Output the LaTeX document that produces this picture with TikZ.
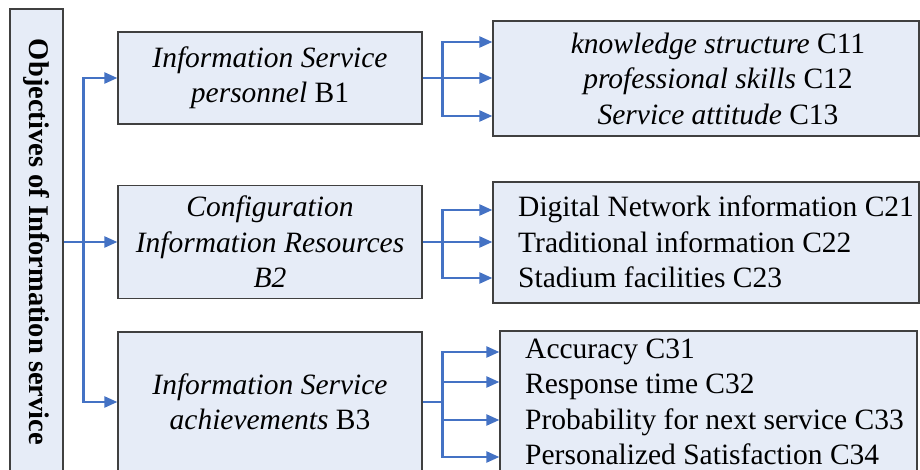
\documentclass[tikz,border=0pt]{standalone}
\usepackage{fontspec}
\setmainfont{Liberation Serif}
\usetikzlibrary{arrows.meta}
\definecolor{boxfill}{RGB}{230,236,247}
\definecolor{arrowblue}{RGB}{68,114,196}
\definecolor{boxline}{RGB}{64,64,64}
\tikzset{
	goalbox/.style={draw=boxline, line width=1.3pt, fill=boxfill, inner sep=0pt,
		align=center, font=\fontsize{29.5}{35.5}\selectfont},
	itemtext/.style={inner sep=0pt, font=\fontsize{29.5}{35.5}\selectfont},
	feed/.style={draw=arrowblue, line width=2.4pt},
	link/.style={feed, -{Triangle[length=13pt,width=11pt]}},
}

\begin{document}
\begin{tikzpicture}[x=1pt,y=-1pt]
	\useasboundingbox (0,0) rectangle (920,470);
	\clip (0,0) rectangle (920,470);
	
	% goal
	\node[goalbox, minimum width=53pt, minimum height=466pt, font=\fontsize{28.5}{30}\selectfont\bfseries] (A) at (36.5,242) {\rotatebox{-90}{Objectives of Information service}};
	
	% criteria
	\node[goalbox, minimum width=304pt, minimum height=92pt] (B1) at (270,78) {\textit{Information Service}\\\textit{personnel} B1};
	\node[goalbox, minimum width=304pt, minimum height=113pt] (B2) at (270,242) {\textit{Configuration}\\\textit{Information Resources}\\\textit{B2}};
	\node[goalbox, minimum width=304pt, minimum height=140pt] (B3) at (270,402) {\textit{Information Service}\\\textit{achievements} B3};
	
	% indicators
	\node[goalbox, minimum width=426pt, minimum height=115pt] (C1) at (706,78.5) {};
	\node[goalbox, minimum width=426pt, minimum height=121pt] (C2) at (706,242.5) {};
	\node[goalbox, minimum width=417pt, minimum height=141pt] (C3) at (708.5,401.5) {};
	\node[itemtext, align=center] (C1text) at (718,78.5) {\textit{knowledge structure} C11\\\textit{professional skills} C12\\\textit{Service attitude} C13};
	\node[itemtext, align=left, anchor=west] (C2text) at (518,242) {Digital Network information C21\\Traditional information C22\\Stadium facilities C23};
	\node[itemtext, align=left, anchor=west] (C3text) at (525,402) {Accuracy C31\\Response time C32\\Probability for next service C33\\Personalized Satisfaction C34};
	
	% goal -> criteria
	\path (A.east) ++(20,0) coordinate (fork);
	\draw[link] (A.east) -- (B2.west);
	\draw[link] (fork) |- (B1.west);
	\draw[link] (fork) |- (B3.west);
	
	% criteria -> indicators
	\path (B1.east) ++(20,0) coordinate (f1);
	\path (B2.east) ++(20,0) coordinate (f2);
	\path (B3.east) ++(20,0) coordinate (f3);
	\draw[feed] (B1.east) -- (f1);
	\draw[feed] (B2.east) -- (f2);
	\draw[feed] (B3.east) -- (f3);
	\foreach \y in {42,78,116}
		\draw[link] (f1) |- (C1.west |- 0,\y);
	\foreach \y in {210,242,278}
		\draw[link] (f2) |- (C2.west |- 0,\y);
	\foreach \y in {352,382,420,457}
		\draw[link] (f3) |- (C3.west |- 0,\y);
	
\end{tikzpicture}
\end{document}
